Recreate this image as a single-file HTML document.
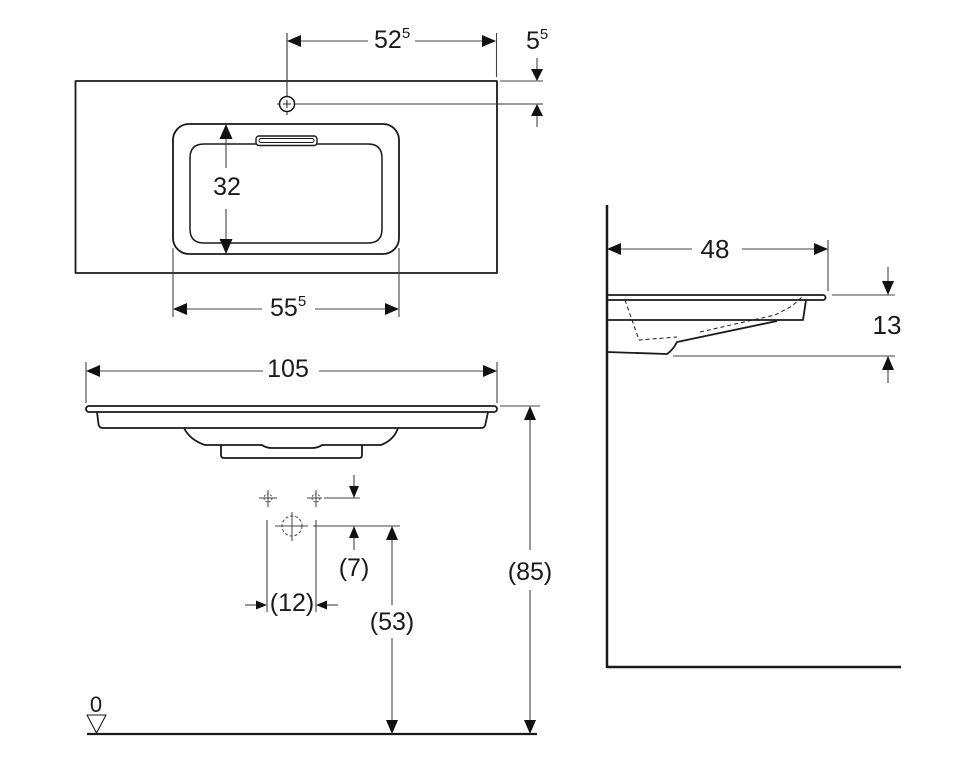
<!DOCTYPE html>
<html><head><meta charset="utf-8"><style>
html,body{margin:0;padding:0;background:#fff;}
svg{display:block;}
text{font-family:"Liberation Sans",Arial,sans-serif;fill:#1a1a1a;}
</style></head><body>
<svg width="955" height="774" viewBox="0 0 955 774" xmlns="http://www.w3.org/2000/svg">
<g fill="none" stroke="#1a1a1a" stroke-width="1.8" stroke-linejoin="round">
  <!-- TOP VIEW -->
  <rect x="75.5" y="81" width="421.5" height="192"/>
  <rect x="173" y="124" width="226" height="130" rx="16"/>
  <path d="M204,144 L368,144 Q382,144 382,158 L382,229 Q382,243 368,243 L204,243 Q190,243 190,229 L190,158 Q190,144 204,144 Z" stroke-width="1.5"/>
  <rect x="256" y="136" width="61" height="9.5" rx="3" fill="#fff" stroke-width="1.4"/>
  <rect x="259" y="138.5" width="55" height="4" rx="2" stroke-width="1"/>
  <!-- FRONT VIEW -->
  <rect x="86" y="406" width="411" height="6" rx="3"/>
  <path d="M97,412 L98.5,424 Q99,428 103,428 L481,428 Q485,428 485.5,424 L488,412"/>
  <path d="M184,428 Q190,440 205,445 L262,445 Q266,448 272,448 L312,448 Q318,448 322,445 L381,445 Q394,440 398,428"/>
  <path d="M221,445 L221,455 Q221,458 224,458 L359,458 Q362,458 362,455 L362,445"/>
  <!-- SIDE VIEW -->
  <path d="M607,300 L823,300 A2.5,2.5 0 0 0 823,295 L607,295"/>
  <path d="M806,300 L803,320 L607,320"/>
  <path d="M777,321 L677,342 Q673,350 667,354 L607,352"/>
  <path d="M625,300 L639,340 L677,337 M700,332 L775,315 L792,306 L802,297" stroke-dasharray="4,3" stroke-width="1"/>
  <path d="M607,205 L607,667 L901,667" stroke-width="2.5"/>
  <!-- ground -->
  <line x1="87" y1="734" x2="537" y2="734" stroke-width="2.3"/>
  <path d="M87,715 L106,715 L96.5,733 Z" stroke-width="1.1"/>
</g>

<!-- tap hole -->
<g fill="none" stroke="#333" stroke-width="1.1">
  <line x1="287" y1="33" x2="287" y2="115"/>
  <line x1="277" y1="104" x2="543" y2="104"/>
  <circle cx="287" cy="104" r="7.5" fill="#fff" stroke="#1a1a1a" stroke-width="1.5"/>
  <line x1="283" y1="104" x2="291" y2="104"/>
  <line x1="287" y1="100" x2="287" y2="108"/>
</g>

<!-- dimension lines -->
<g fill="none" stroke="#444" stroke-width="1.1">
  <!-- 52.5 -->
  <line x1="496.5" y1="33" x2="496.5" y2="77"/>
  <line x1="300" y1="41" x2="368" y2="41"/>
  <line x1="415" y1="41" x2="483" y2="41"/>
  <!-- 5.5 -->
  <line x1="500" y1="81" x2="543" y2="81"/>
  <line x1="537" y1="58" x2="537" y2="70"/>
  <line x1="537" y1="115" x2="537" y2="127"/>
  <!-- 32 -->
  <line x1="226" y1="136" x2="226" y2="168"/>
  <line x1="226" y1="209" x2="226" y2="242"/>
  <!-- 55.5 -->
  <line x1="173" y1="248" x2="173" y2="317"/>
  <line x1="399" y1="248" x2="399" y2="317"/>
  <line x1="186" y1="309" x2="262" y2="309"/>
  <line x1="315" y1="309" x2="386" y2="309"/>
  <!-- 105 -->
  <line x1="86" y1="362" x2="86" y2="403"/>
  <line x1="497" y1="362" x2="497" y2="403"/>
  <line x1="99" y1="371" x2="263" y2="371"/>
  <line x1="319" y1="371" x2="484" y2="371"/>
  <!-- 85 -->
  <line x1="500" y1="406" x2="540" y2="406"/>
  <line x1="530" y1="419" x2="530" y2="550"/>
  <line x1="530" y1="590" x2="530" y2="721"/>
  <!-- small crosshairs -->
  <line x1="324" y1="498" x2="360" y2="498"/>
  <line x1="354" y1="475" x2="354" y2="487"/>
  <line x1="313" y1="526" x2="400" y2="526"/>
  <line x1="354" y1="537" x2="354" y2="550"/>
  <line x1="392" y1="538" x2="392" y2="605"/>
  <line x1="392" y1="638" x2="392" y2="721"/>
  <line x1="267" y1="520" x2="267" y2="612"/>
  <line x1="316" y1="520" x2="316" y2="612"/>
  <line x1="245" y1="605" x2="257" y2="605"/>
  <line x1="326" y1="605" x2="338" y2="605"/>
  <!-- 48 -->
  <line x1="828" y1="240" x2="828" y2="291"/>
  <line x1="621" y1="249" x2="692" y2="249"/>
  <line x1="742" y1="249" x2="814" y2="249"/>
  <!-- 13 -->
  <line x1="832" y1="295" x2="895" y2="295"/>
  <line x1="673" y1="356" x2="895" y2="356"/>
  <line x1="888" y1="267" x2="888" y2="282"/>
  <line x1="888" y1="369" x2="888" y2="383"/>
</g>

<!-- crosshair symbols -->
<g fill="none" stroke="#444" stroke-width="1">
  <circle cx="268" cy="498" r="4" stroke-dasharray="2,1.5"/>
  <line x1="259" y1="498" x2="277" y2="498"/>
  <line x1="268" y1="490" x2="268" y2="507"/>
  <circle cx="316" cy="498" r="4" stroke-dasharray="2,1.5"/>
  <line x1="307" y1="498" x2="322" y2="498"/>
  <line x1="316" y1="490" x2="316" y2="507"/>
  <circle cx="292" cy="526" r="10" stroke-dasharray="3,2"/>
  <line x1="275" y1="526" x2="308" y2="526"/>
  <line x1="292" y1="512" x2="292" y2="541"/>
</g>

<!-- arrowheads -->
<g fill="#111" stroke="none">
  <polygon points="287,41 301,35 301,47"/>
  <polygon points="496,41 482,35 482,47"/>
  <polygon points="537,81 531,69 543,69"/>
  <polygon points="537,104 531,116 543,116"/>
  <polygon points="226,124 219.5,139 232.5,139"/>
  <polygon points="226,254 219.5,239 232.5,239"/>
  <polygon points="173,309 187,303 187,315"/>
  <polygon points="399,309 385,303 385,315"/>
  <polygon points="86,371 100,365 100,377"/>
  <polygon points="497,371 483,365 483,377"/>
  <polygon points="530,406 524,420 536,420"/>
  <polygon points="530,734 524,720 536,720"/>
  <polygon points="354,498 349,486 359,486"/>
  <polygon points="354,526 349,538 359,538"/>
  <polygon points="392,526 386,540 398,540"/>
  <polygon points="392,734 386,720 398,720"/>
  <polygon points="267,605 256,600.5 256,609.5"/>
  <polygon points="316,605 327,600.5 327,609.5"/>
  <polygon points="607,249 621,243 621,255"/>
  <polygon points="828,249 814,243 814,255"/>
  <polygon points="888,295 882,281 894,281"/>
  <polygon points="888,356 882,370 894,370"/>
</g>

<!-- labels -->
<g font-size="25">
  <text x="374" y="48">52<tspan font-size="15" dy="-10">5</tspan></text>
  <text x="526" y="49">5<tspan font-size="15" dy="-10">5</tspan></text>
  <text x="227" y="195" text-anchor="middle">32</text>
  <text x="270" y="316">55<tspan font-size="15" dy="-10">5</tspan></text>
  <text x="288" y="377" text-anchor="middle">105</text>
  <text x="530" y="580" text-anchor="middle">(85)</text>
  <text x="354" y="576" text-anchor="middle">(7)</text>
  <text x="292" y="611" text-anchor="middle">(12)</text>
  <text x="392" y="630" text-anchor="middle">(53)</text>
  <text x="96" y="712" text-anchor="middle" font-size="22">0</text>
  <text x="715" y="258" text-anchor="middle" font-size="26">48</text>
  <text x="887" y="334" text-anchor="middle" font-size="26">13</text>
</g>
</svg>
</body></html>
